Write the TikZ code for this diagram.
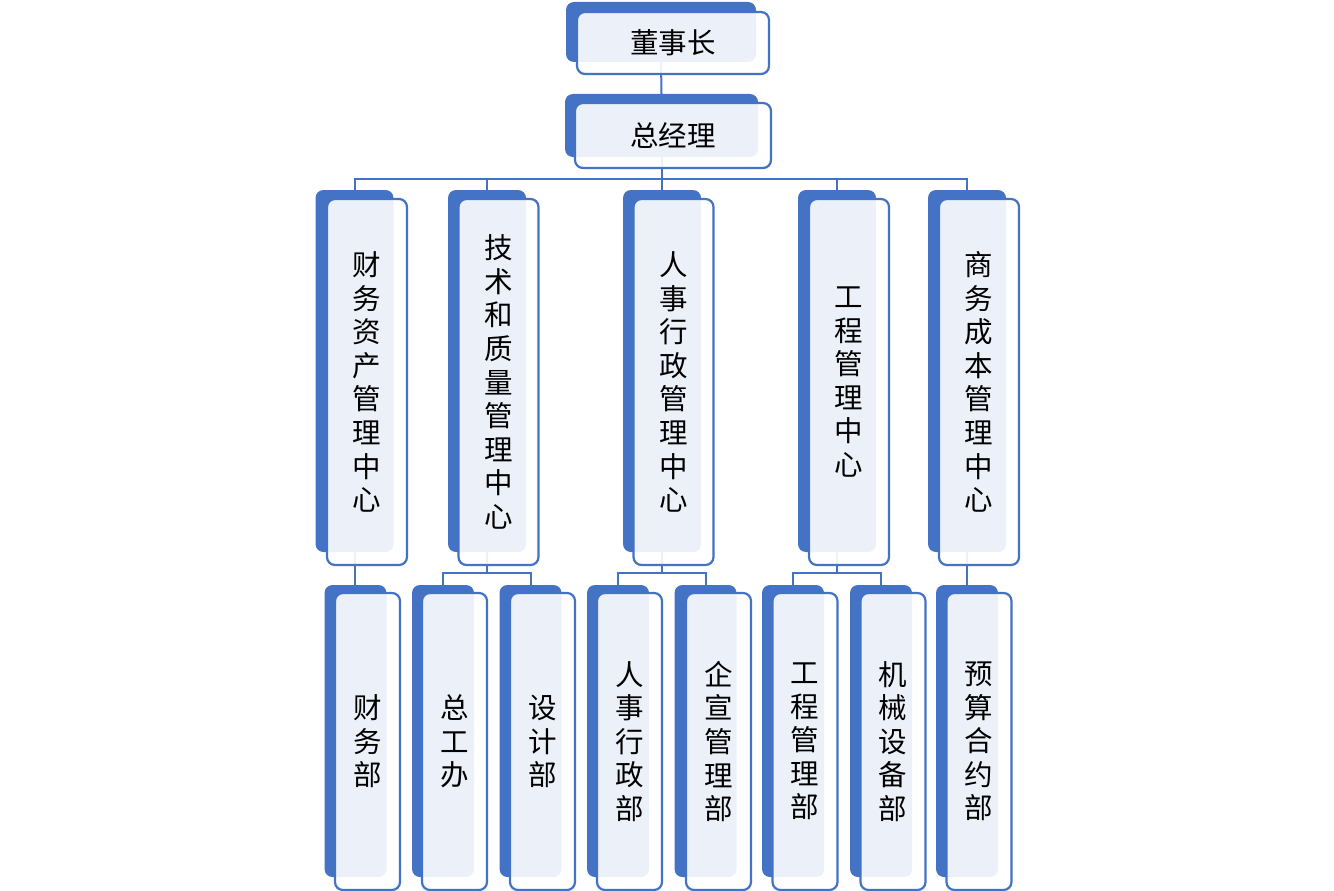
\documentclass[tikz,border=0pt]{standalone}
\usepackage{fontspec}
\setmainfont{Noto Sans CJK SC}
\definecolor{orgblue}{HTML}{4472C4}
\begin{document}
\begin{tikzpicture}[x=1pt, y=-1pt,
	back/.style={fill=orgblue, rounded corners=8pt, inner sep=0pt},
	front/.style={draw=orgblue, line width=2.2pt, fill=white, fill opacity=0.9, text opacity=1, rounded corners=8pt, inner sep=0pt, align=center, font=\fontsize{28.5}{33.6}\selectfont},
	link/.style={draw=orgblue, line width=2pt}]
		\useasboundingbox (0, 0) rectangle (1334, 891);
		
		% dark blocks behind
		\draw node[back, minimum width=190, minimum height=60] at (661, 32) (ceo-b) {};
		\draw node[back, minimum width=193, minimum height=63] at (661.5, 125.5) (gm-b) {};
		
		\draw node[back, minimum width=78, minimum height=362] at (354.5, 371) (fin-b) {};
		\draw node[back, minimum width=78, minimum height=362] at (487, 371) (tech-b) {};
		\draw node[back, minimum width=78, minimum height=362] at (662, 371) (hr-b) {};
		\draw node[back, minimum width=78, minimum height=362] at (837, 371) (eng-b) {};
		\draw node[back, minimum width=78, minimum height=362] at (967, 371) (biz-b) {};
		
		\draw node[back, minimum width=62, minimum height=292] at (355.5, 731) (fin1-b) {};
		\draw node[back, minimum width=62, minimum height=292] at (443, 731) (tech1-b) {};
		\draw node[back, minimum width=62, minimum height=292] at (530.5, 731) (tech2-b) {};
		\draw node[back, minimum width=62, minimum height=292] at (618, 731) (hr1-b) {};
		\draw node[back, minimum width=62, minimum height=292] at (705.5, 731) (hr2-b) {};
		\draw node[back, minimum width=62, minimum height=292] at (793, 731) (eng1-b) {};
		\draw node[back, minimum width=62, minimum height=292] at (881, 731) (eng2-b) {};
		\draw node[back, minimum width=62, minimum height=292] at (967, 731) (biz1-b) {};
		
		% links
		\draw [link] (ceo-b.south) -- (gm-b.north);
		\draw [link] (gm-b.south) -- ++(0, 22) -| (fin-b.north);
		\draw [link] (gm-b.south) -- ++(0, 22) -| (tech-b.north);
		\draw [link] (gm-b.south) -- ++(0, 22) -| (hr-b.north);
		\draw [link] (gm-b.south) -- ++(0, 22) -| (eng-b.north);
		\draw [link] (gm-b.south) -- ++(0, 22) -| (biz-b.north);
		
		\draw [link] (fin-b.south) -- (fin-b.south |- fin1-b.north);
		\draw [link] (tech-b.south) -- ++(0, 21) -| (tech1-b.north);
		\draw [link] (tech-b.south) -- ++(0, 21) -| (tech2-b.north);
		\draw [link] (hr-b.south) -- ++(0, 21) -| (hr1-b.north);
		\draw [link] (hr-b.south) -- ++(0, 21) -| (hr2-b.north);
		\draw [link] (eng-b.south) -- ++(0, 21) -| (eng1-b.north);
		\draw [link] (eng-b.south) -- ++(0, 21) -| (eng2-b.north);
		\draw [link] (biz-b.south) -- (biz1-b.north);
		
		% front cards
		\draw node[front, minimum width=192, minimum height=62] at (673, 43) (ceo) {董事长};
		\draw node[front, minimum width=196, minimum height=65] at (673, 135.5) (gm) {总经理};
		
		\draw node[front, minimum width=80, minimum height=366] at (367, 382) (fin) {财\\务\\资\\产\\管\\理\\中\\心};
		\draw node[front, minimum width=80, minimum height=366] at (498.5, 382) (tech) {技\\术\\和\\质\\量\\管\\理\\中\\心};
		\draw node[front, minimum width=80, minimum height=366] at (673.5, 382) (hr) {人\\事\\行\\政\\管\\理\\中\\心};
		\draw node[front, minimum width=80, minimum height=366] at (849, 382) (eng) {工\\程\\管\\理\\中\\心};
		\draw node[front, minimum width=80, minimum height=366] at (979, 382) (biz) {商\\务\\成\\本\\管\\理\\中\\心};
		
		\draw node[front, minimum width=65, minimum height=297] at (367.5, 741.5) (fin1) {财\\务\\部};
		\draw node[front, minimum width=65, minimum height=297] at (454.5, 741.5) (tech1) {总\\工\\办};
		\draw node[front, minimum width=65, minimum height=297] at (542.5, 741.5) (tech2) {设\\计\\部};
		\draw node[front, minimum width=65, minimum height=297] at (629.5, 741.5) (hr1) {人\\事\\行\\政\\部};
		\draw node[front, minimum width=65, minimum height=297] at (718.5, 741.5) (hr2) {企\\宣\\管\\理\\部};
		\draw node[front, minimum width=65, minimum height=297] at (805, 741.5) (eng1) {工\\程\\管\\理\\部};
		\draw node[front, minimum width=65, minimum height=297] at (893, 741.5) (eng2) {机\\械\\设\\备\\部};
		\draw node[front, minimum width=65, minimum height=297] at (979, 741.5) (biz1) {预\\算\\合\\约\\部};
\end{tikzpicture}
\end{document}
